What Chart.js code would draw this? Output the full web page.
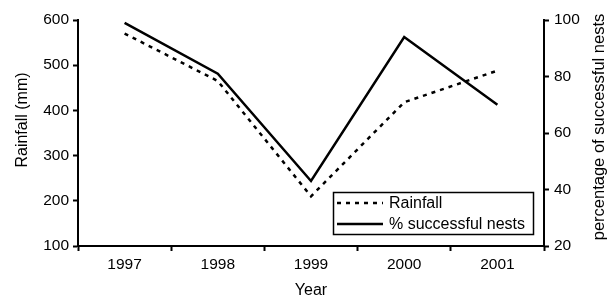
<!DOCTYPE html>
<html><head><meta charset="utf-8">
<script src="https://cdn.jsdelivr.net/npm/chart.js@4"></script>
<style>html,body{margin:0;padding:0;background:#fff}#wrap{width:611px;height:298px}</style>
</head><body><div id="wrap"><canvas id="c" width="611" height="298"></canvas></div>
<script>
const years = ['1997','1998','1999','2000','2001'];
const rainfall = [570, 465, 210, 418, 488];
const nests = [99, 81, 43, 94, 70];
const rainTicks = [100, 200, 300, 400, 500, 600];
const nestTicks = [20, 40, 60, 80, 100];
const FONT = 'Liberation Sans, Arial, sans-serif';

const legendPlugin = {
  id: 'customLegend',
  afterDraw(chart) {
    const ctx = chart.ctx;
    ctx.save();
    ctx.strokeStyle = '#000';
    ctx.lineWidth = 1.5;
    ctx.strokeRect(333.5, 192.5, 200, 42);
    const rows = [203, 224];
    chart.data.datasets.forEach((ds, i) => {
      ctx.beginPath();
      ctx.lineWidth = ds.borderWidth;
      ctx.setLineDash(ds.borderDash || []);
      ctx.moveTo(337, rows[i]);
      ctx.lineTo(383, rows[i]);
      ctx.stroke();
      ctx.setLineDash([]);
      ctx.fillStyle = '#000';
      ctx.font = '16px ' + FONT;
      ctx.textBaseline = 'middle';
      ctx.textAlign = 'left';
      ctx.fillText(ds.label, 389, rows[i] + 1);
    });
    ctx.font = '16px ' + FONT;
    ctx.textAlign = 'center';
    ctx.textBaseline = 'middle';
    ctx.save();
    ctx.translate(23, 120);
    ctx.rotate(-Math.PI / 2);
    ctx.fillText('Rainfall (mm)', 0, 0);
    ctx.restore();
    ctx.save();
    ctx.translate(599, 127);
    ctx.rotate(-Math.PI / 2);
    ctx.font = '16.5px ' + FONT;
    ctx.fillText('percentage of successful nests', 0, 0);
    ctx.restore();
    ctx.restore();
  }
};

new Chart(document.getElementById('c'), {
  type: 'line',
  data: {
    labels: years,
    datasets: [
      { label: 'Rainfall', data: rainfall, yAxisID: 'y', borderColor: '#000', borderWidth: 2.5, borderDash: [4, 5], pointRadius: 0, fill: false, tension: 0 },
      { label: '% successful nests', data: nests, yAxisID: 'y2', borderColor: '#000', borderWidth: 2.5, pointRadius: 0, fill: false, tension: 0 }
    ]
  },
  options: {
    responsive: false,
    animation: false,
    layout: { padding: { top: 20, bottom: 0, left: 0, right: 0 } },
    plugins: { legend: { display: false }, tooltip: { enabled: false } },
    scales: {
      x: {
        offset: true,
        grid: { offset: true, drawOnChartArea: false, drawTicks: true, tickLength: 5, tickColor: '#000', tickWidth: 2 },
        border: { display: true, color: '#000', width: 2 },
        ticks: { color: '#000', font: { family: FONT, size: 15.5 }, padding: 4, maxRotation: 0 },
        title: { display: true, text: 'Year', color: '#000', font: { family: FONT, size: 16 }, padding: { top: 4, bottom: -2 } },
        afterFit(s) { s.height = 52; }
      },
      y: {
        position: 'left',
        min: 100, max: 600,
        afterBuildTicks(s) { s.ticks = rainTicks.map(v => ({ value: v })); },
        grid: { drawOnChartArea: false, drawTicks: true, tickLength: 5, tickColor: '#000', tickWidth: 2 },
        border: { display: true, color: '#000', width: 2 },
        ticks: { color: '#000', font: { family: FONT, size: 15.5 }, padding: 4 },
        afterFit(s) { s.width = 78; }
      },
      y2: {
        position: 'right',
        min: 20, max: 100,
        afterBuildTicks(s) { s.ticks = nestTicks.map(v => ({ value: v })); },
        grid: { drawOnChartArea: false, drawTicks: true, tickLength: 5, tickColor: '#000', tickWidth: 2 },
        border: { display: true, color: '#000', width: 2 },
        ticks: { color: '#000', font: { family: FONT, size: 15.5 }, padding: 5 },
        afterFit(s) { s.width = 67; }
      }
    }
  },
  plugins: [legendPlugin]
});
</script>
</body></html>
